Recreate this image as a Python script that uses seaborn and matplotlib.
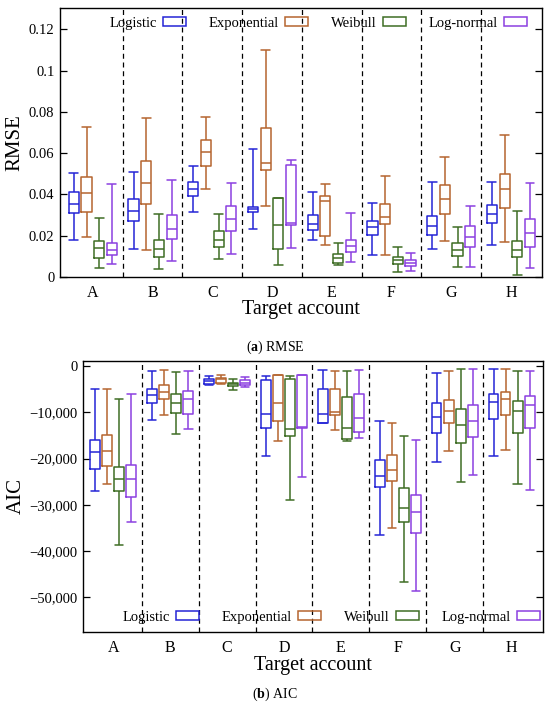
import numpy as np
import pandas as pd
import matplotlib
matplotlib.use("Agg")
import matplotlib.pyplot as plt
from matplotlib.patches import Patch
from matplotlib.ticker import FuncFormatter
import seaborn as sns

accounts = ["A", "B", "C", "D", "E", "F", "G", "H"]
models = ["Logistic", "Exponential", "Weibull", "Log-normal"]
colors = ["#2424d6", "#b5652f", "#3e6d24", "#8b40e0"]

# five-number summaries per account:
# [whisker low, Q1, median, Q3, whisker high]
rmse_logistic = [
    [0.0179, 0.0311, 0.0356, 0.0410, 0.0506], [0.0137, 0.0273, 0.0321, 0.0380, 0.0510],
    [0.0315, 0.0392, 0.0426, 0.0460, 0.0540], [0.0232, 0.0315, 0.0329, 0.0340, 0.0621],
    [0.0179, 0.0227, 0.0255, 0.0300, 0.0411], [0.0105, 0.0203, 0.0240, 0.0271, 0.0360],
    [0.0134, 0.0205, 0.0247, 0.0294, 0.0460], [0.0153, 0.0263, 0.0306, 0.0350, 0.0458],
]
rmse_exponential = [
    [0.0194, 0.0315, 0.0405, 0.0485, 0.0726], [0.0132, 0.0355, 0.0453, 0.0560, 0.0770],
    [0.0427, 0.0539, 0.0605, 0.0666, 0.0777], [0.0342, 0.0516, 0.0552, 0.0724, 0.1100],
    [0.0153, 0.0200, 0.0366, 0.0394, 0.0450], [0.0105, 0.0255, 0.0289, 0.0356, 0.0490],
    [0.0173, 0.0306, 0.0376, 0.0447, 0.0579], [0.0168, 0.0332, 0.0426, 0.0500, 0.0687],
]
rmse_weibull = [
    [0.0045, 0.0094, 0.0142, 0.0174, 0.0284], [0.0039, 0.0097, 0.0134, 0.0179, 0.0306],
    [0.0085, 0.0145, 0.0179, 0.0223, 0.0306], [0.0058, 0.0137, 0.0250, 0.0382, 0.0382],
    [0.0058, 0.0068, 0.0090, 0.0111, 0.0165], [0.0023, 0.0063, 0.0081, 0.0097, 0.0145],
    [0.0047, 0.0100, 0.0132, 0.0163, 0.0242], [0.0010, 0.0097, 0.0131, 0.0173, 0.0318],
]
rmse_lognormal = [
    [0.0063, 0.0108, 0.0132, 0.0165, 0.0450], [0.0076, 0.0182, 0.0232, 0.0298, 0.0468],
    [0.0110, 0.0223, 0.0281, 0.0342, 0.0453], [0.0139, 0.0252, 0.0261, 0.0542, 0.0565],
    [0.0073, 0.0119, 0.0148, 0.0181, 0.0308], [0.0031, 0.0055, 0.0069, 0.0084, 0.0116],
    [0.0050, 0.0144, 0.0192, 0.0245, 0.0345], [0.0044, 0.0145, 0.0213, 0.0281, 0.0456],
]

aic_logistic = [
    [-27100, -22200, -18500, -16000, -5000], [-11700, -8100, -6300, -4900, -1000],
    [-4100, -3900, -3300, -2800, -2200], [-19500, -13300, -10300, -3000, -2100],
    [-12300, -12300, -10400, -5000, -900], [-36600, -26100, -23700, -20400, -11900],
    [-20700, -14400, -11000, -8100, -1600], [-19500, -11500, -7700, -6100, -700],
]
aic_exponential = [
    [-25500, -21700, -18400, -15000, -5000], [-10700, -7200, -5600, -4200, -900],
    [-3900, -3600, -2900, -2500, -2000], [-16200, -11900, -8100, -2000, -2000],
    [-13800, -10500, -10000, -4900, -1100], [-35100, -24800, -22400, -19300, -12300],
    [-18400, -12400, -9700, -7300, -1100], [-18200, -10700, -7100, -5600, -600],
]
aic_weibull = [
    [-38800, -27000, -24400, -21800, -7100], [-14800, -10200, -8100, -6100, -1400],
    [-5100, -4400, -3900, -3600, -2900], [-29000, -15100, -13700, -2800, -2100],
    [-16300, -15800, -13300, -6600, -1100], [-46600, -33800, -30700, -26400, -15100],
    [-25000, -16700, -12800, -9400, -600], [-25600, -14500, -9700, -7500, -1100],
]
aic_lognormal = [
    [-33700, -28400, -24400, -21400, -6000], [-13600, -10300, -7100, -5400, -1000],
    [-4600, -4000, -3600, -3100, -2400], [-24000, -13500, -13100, -2000, -2000],
    [-15600, -14200, -11200, -6100, -900], [-48600, -36100, -31500, -27900, -16100],
    [-23500, -15400, -11900, -8500, -600], [-26700, -13500, -8400, -6400, -1100],
]


def to_long(per_model):
    rows = []
    for model, per_account in zip(models, per_model):
        for acc, five in zip(accounts, per_account):
            for v in five:
                rows.append((acc, model, v))
    return pd.DataFrame(rows, columns=["account", "model", "value"])


rmse_df = to_long([rmse_logistic, rmse_exponential, rmse_weibull, rmse_lognormal])
aic_df = to_long([aic_logistic, aic_exponential, aic_weibull, aic_lognormal])

sns.set_theme(style="ticks")
plt.rcParams["font.family"] = ["Liberation Serif", "DejaVu Serif"]
plt.rcParams["mathtext.fontset"] = "custom"
plt.rcParams["mathtext.rm"] = "Liberation Serif"
plt.rcParams["mathtext.bf"] = "Liberation Serif:bold"
for k in ["text.color", "axes.labelcolor", "xtick.color", "ytick.color", "axes.edgecolor"]:
    plt.rcParams[k] = "black"

fig = plt.figure(figsize=(5.5, 7.09), dpi=100)
ax1 = fig.add_axes([60 / 550, 1 - 277 / 709, 482 / 550, 269 / 709])
ax2 = fig.add_axes([83 / 550, 1 - 632 / 709, 460 / 550, 271 / 709])


def draw(ax, df, ylabel, ylab_x, legend_x, legend_y):
    sns.boxplot(data=df, x="account", y="value", hue="model", order=accounts,
                hue_order=models, palette=colors, fill=False, width=0.85, gap=0.2,
                whis=np.inf, linewidth=1.1, capwidths=0.15, legend=False, ax=ax)
    for x in np.arange(0.5, 7, 1):
        ax.axvline(x, color="black", ls=(0, (4, 3)), lw=0.9, zorder=0)
    ax.set_xlabel("")
    ax.set_ylabel("")
    ax.tick_params(axis="y", direction="in", length=5, width=0.9, right=True,
                   labelsize=10.5, pad=4)
    ax.tick_params(axis="x", length=0, labelsize=11.5, pad=6)
    for s in ax.spines.values():
        s.set_visible(True)
        s.set_linewidth(1.0)
        s.set_color("black")
    ax.text(0.5, -0.122, "Target account", transform=ax.transAxes,
            ha="center", va="center", fontsize=14.5)
    ax.text(ylab_x, 0.5, ylabel, transform=ax.transAxes, rotation=90,
            ha="center", va="center", fontsize=15)
    handles = [Patch(facecolor="none", edgecolor=c, linewidth=1.1, label=m)
               for m, c in zip(models, colors)]
    ax.legend(handles=handles, ncol=4, markerfirst=False, frameon=False, loc="center",
              bbox_to_anchor=(legend_x, legend_y), fontsize=10.5, handlelength=1.6,
              handleheight=0.6, handletextpad=0.4, columnspacing=1.55, borderpad=0)


draw(ax1, rmse_df, "RMSE", -0.093, 0.536, 0.944)
ax1.set_xlim(-0.55, 7.52)
ax1.set_ylim(0, 0.1303)
ax1.set_yticks([0, 0.02, 0.04, 0.06, 0.08, 0.1, 0.12])
ax1.yaxis.set_major_formatter(FuncFormatter(lambda v, p: f"{v:g}"))

draw(ax2, aic_df, "AIC", -0.146, 0.54, 0.055)
ax2.set_xlim(-0.53, 7.55)
ax2.set_ylim(-57500, 1080)
ax2.set_yticks([0, -10000, -20000, -30000, -40000, -50000])
ax2.yaxis.set_major_formatter(
    FuncFormatter(lambda v, p: f"{int(round(v)):,}".replace("-", "\u2212")))

fig.text(0.5, 1 - 347 / 709, r"($\mathbf{a}$) RMSE", ha="center", va="center", fontsize=10)
fig.text(0.5, 1 - 694 / 709, r"($\mathbf{b}$) AIC", ha="center", va="center", fontsize=10)

fig.savefig("out.png", dpi=100)
